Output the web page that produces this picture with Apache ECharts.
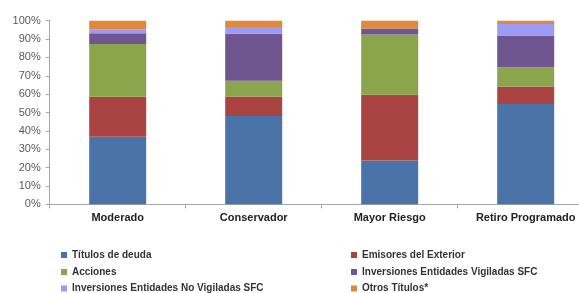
<!DOCTYPE html>
<html><head><meta charset="utf-8">
<script src="https://cdn.jsdelivr.net/npm/echarts@6/dist/echarts.min.js"></script>
<style>html,body{margin:0;padding:0;background:#fff;overflow:hidden}#c{width:600px;height:293px}</style>
</head><body><div id="c"></div>
<script>
const categories = ['Moderado', 'Conservador', 'Mayor Riesgo', 'Retiro Programado'];
const yTicks = [0, 10, 20, 30, 40, 50, 60, 70, 80, 90, 100];
const titulosDeuda = [36.8, 48.1, 23.9, 54.6];
const emisoresExterior = [21.8, 10.6, 35.8, 9.6];
const acciones = [28.7, 8.6, 32.8, 10.4];
const invVigiladas = [5.9, 25.6, 3.3, 17.4];
const invNoVigiladas = [2.2, 3.7, 0.0, 6.2];
const otrosTitulos = [4.6, 3.4, 4.2, 1.8];

const seriesNames = ['Títulos de deuda', 'Emisores del Exterior', 'Acciones', 'Inversiones Entidades Vigiladas SFC', 'Inversiones Entidades No Vigiladas SFC', 'Otros Títulos*'];
const seriesData = [titulosDeuda, emisoresExterior, acciones, invVigiladas, invNoVigiladas, otrosTitulos];
const colors = ['#4A73A8', '#A94442', '#8AA54C', '#6F5691', '#9B9BF5', '#E0883C'];

const font = '"Liberation Sans", Arial, sans-serif';
const chart = echarts.init(document.getElementById('c'), null, {renderer: 'canvas'});
const legendText = {fontFamily: font, fontSize: 10, fontWeight: 'bold', color: '#333'};
// legend slots: [left, top] for each series
const legendPos = [[61, 250], [351, 250], [61, 267], [351, 267], [61, 283.5], [351, 283.5]];
chart.setOption({
  animation: false,
  color: colors,
  grid: {left: 49.7, top: 20.7, right: 6.3, bottom: 88.7, containLabel: false},
  xAxis: {
    type: 'category', data: categories,
    axisLine: {lineStyle: {color: '#A6A6A6'}},
    axisTick: {show: true, length: 4, lineStyle: {color: '#A6A6A6'}},
    axisLabel: {fontFamily: font, fontSize: 11, fontWeight: 'bold', color: '#222', margin: 8}
  },
  yAxis: {
    type: 'value', min: yTicks[0], max: yTicks[yTicks.length - 1], interval: 10,
    axisLine: {show: true, lineStyle: {color: '#A6A6A6'}},
    axisTick: {show: true, length: 4, lineStyle: {color: '#A6A6A6'}},
    splitLine: {show: false},
    axisLabel: {fontFamily: font, fontSize: 11, color: '#595959', margin: 9, formatter: v => v + '%'}
  },
  legend: seriesNames.map((n, i) => ({
    left: legendPos[i][0], top: legendPos[i][1], itemWidth: 6, itemHeight: 6, icon: 'rect', padding: 0,
    data: [n], textStyle: legendText
  })),
  series: seriesNames.map((n, i) => ({
    name: n, type: 'bar', stack: 'total', barWidth: 57, data: seriesData[i]
  }))
});
</script></body></html>
